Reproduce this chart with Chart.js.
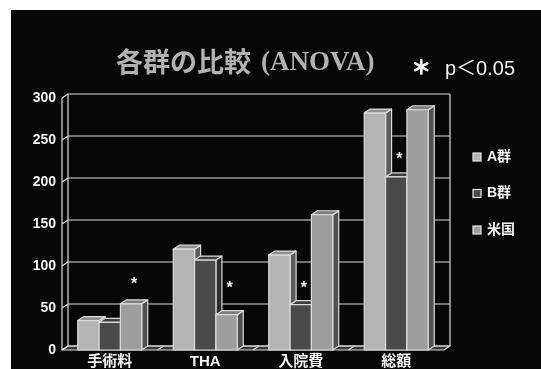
<!DOCTYPE html>
<html>
<head>
<meta charset="utf-8">
<script src="https://cdn.jsdelivr.net/npm/chart.js@4/dist/chart.umd.min.js"></script>
<style>
html, body { margin: 0; padding: 0; background: #fff; width: 541px; height: 369px; overflow: hidden; }
#wrap { position: absolute; left: 11px; top: 10px; width: 530px; height: 359px; background: #070707; }
</style>
</head>
<body>
<div id="wrap"><canvas id="myChart" width="530" height="359"></canvas></div>
<script>
// Values
const categories = ["手術料", "THA", "入院費", "総額"];
const seriesNames = ["A群", "B群", "米国"];
const seriesA = [35, 120, 113, 282];
const seriesB = [33, 107, 54, 206];
const seriesUS = [55, 42, 161, 286];
const yTicks = [0, 50, 100, 150, 200, 250, 300];
// which bar carries the * (series index) and at what height (value units)
const sigSeries = [2, 2, 1, 1];
const sigValues = [83, 78, 78, 232];

// 3D depth of the boxes
const DX = 6, DY = -4;
const LINE = "#dcdcdc";
const faces = [
    { front: "#b4b4b4", top: "#8e8e8e", side: "#5c5c5c" },
    { front: "#4a4a4a", top: "#3c3c3c", side: "#2c2c2c" },
    { front: "#9e9e9e", top: "#7c7c7c", side: "#505050" }
];
const FONT = "'Liberation Sans', 'Noto Sans CJK JP', sans-serif";

function poly(ctx, pts, fill) {
    ctx.beginPath();
    ctx.moveTo(pts[0][0], pts[0][1]);
    for (let i = 1; i < pts.length; i++) ctx.lineTo(pts[i][0], pts[i][1]);
    ctx.closePath();
    ctx.fillStyle = fill;
    ctx.fill();
    ctx.stroke();
}

// Draw back wall, floor and the 3D boxes ourselves, using the bar elements' geometry
const box3d = {
    id: "box3d",
    beforeDatasetsDraw(chart) {
        const ctx = chart.ctx;
        const a = chart.chartArea;
        const y = chart.scales.y;
        const x = chart.scales.x;
        ctx.save();
        ctx.strokeStyle = LINE;
        ctx.lineWidth = 1.2;
        ctx.lineJoin = "round";

        // floor
        poly(ctx, [[a.left, a.bottom], [a.right, a.bottom], [a.right + DX, a.bottom + DY], [a.left + DX, a.bottom + DY]], "#383838");
        // category dividers across the floor
        ctx.beginPath();
        for (let i = 1; i < categories.length; i++) {
            const px = (x.getPixelForTick(i - 1) + x.getPixelForTick(i)) / 2;
            ctx.moveTo(px, a.bottom);
            ctx.lineTo(px + DX, a.bottom + DY);
        }
        ctx.stroke();

        // back wall grid + left wall diagonals
        ctx.beginPath();
        yTicks.forEach(v => {
            const py = y.getPixelForValue(v);
            ctx.moveTo(a.left, py);
            ctx.lineTo(a.left + DX, py + DY);
            ctx.lineTo(a.right + DX, py + DY);
        });
        ctx.moveTo(a.left, a.bottom);
        ctx.lineTo(a.left, a.top);
        ctx.moveTo(a.left + DX, a.bottom + DY);
        ctx.lineTo(a.left + DX, a.top + DY);
        ctx.moveTo(a.right + DX, a.bottom + DY);
        ctx.lineTo(a.right + DX, a.top + DY);
        ctx.stroke();

        // boxes, left to right so each front hides the neighbour's side
        const metas = chart.data.datasets.map((d, i) => chart.getDatasetMeta(i));
        categories.forEach((c, i) => {
            metas.forEach((m, d) => {
                const b = m.data[i];
                const x0 = b.x - b.width / 2, x1 = b.x + b.width / 2;
                const top = b.y, base = b.base;
                const f = faces[d];
                poly(ctx, [[x1, base], [x1 + DX, base + DY], [x1 + DX, top + DY], [x1, top]], f.side);
                poly(ctx, [[x0, top], [x0 + DX, top + DY], [x1 + DX, top + DY], [x1, top]], f.top);
                poly(ctx, [[x0, base], [x1, base], [x1, top], [x0, top]], f.front);
            });
        });

        // significance marks
        ctx.fillStyle = "#f0f0f0";
        ctx.font = "bold 16px " + FONT;
        ctx.textAlign = "center";
        ctx.textBaseline = "middle";
        categories.forEach((c, i) => {
            const b = metas[sigSeries[i]].data[i];
            ctx.fillText("*", b.x + DX / 2, y.getPixelForValue(sigValues[i]) + 4);
        });
        ctx.restore();
        return false;
    },
    afterDraw(chart) {
        const ctx = chart.ctx;
        ctx.save();
        ctx.textBaseline = "middle";
        ctx.textAlign = "left";
        // title
        ctx.fillStyle = "#b2b2b2";
        ctx.font = "bold 27px 'Noto Sans CJK JP', sans-serif";
        ctx.fillText("各群の比較", 105, 52);
        ctx.font = "bold 27px 'Liberation Serif', serif";
        ctx.fillText("(ANOVA)", 250, 53);
        // p-value note
        ctx.fillStyle = "#f2f2f2";
        ctx.font = "900 20px 'Noto Sans CJK JP', sans-serif";
        ctx.textAlign = "center";
        ctx.fillText("＊", 410, 57);
        ctx.fillText("＊", 410.6, 57);
        ctx.textAlign = "left";
        ctx.font = "20px 'Liberation Sans', 'Noto Sans CJK JP', sans-serif";
        ctx.fillText("p＜0.05", 434, 59);

        // legend
        ctx.strokeStyle = "#e6e6e6";
        ctx.lineWidth = 1.2;
        ctx.font = "bold 14px " + FONT;
        seriesNames.forEach((name, d) => {
            const cy = 147 + d * 36.5;
            ctx.fillStyle = faces[d].front;
            ctx.fillRect(462, cy - 4, 8, 8);
            ctx.strokeRect(462, cy - 4, 8, 8);
            ctx.fillStyle = "#f2f2f2";
            ctx.fillText(name, 476, cy);
        });
        ctx.restore();
    }
};

const chartConfig = {
    type: "bar",
    data: {
        labels: categories,
        datasets: [
            { label: seriesNames[0], data: seriesA, backgroundColor: faces[0].front },
            { label: seriesNames[1], data: seriesB, backgroundColor: faces[1].front },
            { label: seriesNames[2], data: seriesUS, backgroundColor: faces[2].front }
        ]
    },
    options: {
        responsive: false,
        animation: false,
        layout: { padding: { top: 88, right: 97, left: 0, bottom: 0 } },
        plugins: {
            legend: { display: false },
            title: { display: false },
            tooltip: { enabled: false }
        },
        datasets: {
            bar: { categoryPercentage: 0.67, barPercentage: 1.0 }
        },
        scales: {
            x: {
                grid: { display: false, drawTicks: false },
                border: { display: false },
                ticks: { color: "#f4f4f4", font: { family: FONT, size: 15, weight: "bold" }, padding: 3, maxRotation: 0 },
                afterFit: (s) => { s.height = 19; }
            },
            y: {
                min: 0,
                max: 300,
                grid: { display: false, drawTicks: false },
                border: { display: false },
                ticks: { stepSize: 50, color: "#f4f4f4", font: { family: FONT, size: 14, weight: "bold" }, padding: 6 },
                afterFit: (s) => { s.width = 51; }
            }
        }
    },
    plugins: [box3d]
};

window.onload = function() {
    new Chart(document.getElementById("myChart"), chartConfig);
};
</script>
</body>
</html>
